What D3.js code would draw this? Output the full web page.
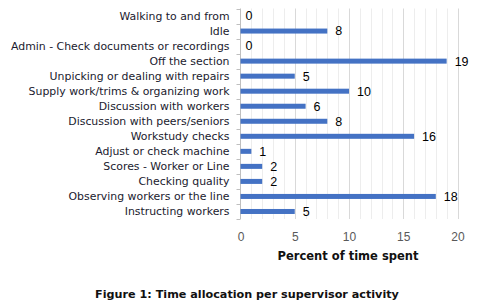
<!DOCTYPE html>
<html>
<head>
<meta charset="utf-8">
<script src="https://cdn.jsdelivr.net/npm/d3@7"></script>
<style>
  body{margin:0;background:#fff;}
  svg{display:block;}
  .cat{font-family:"DejaVu Sans",sans-serif;font-size:10.9px;fill:#1a1a2e;}
  .val{font-family:"Liberation Sans",Arial,sans-serif;font-size:12.5px;fill:#000;}
  .tick text{font-family:"Liberation Sans",Arial,sans-serif;font-size:12px;fill:#595959;}
  .ttl{font-family:"DejaVu Sans",sans-serif;font-weight:bold;fill:#111;}
</style>
</head>
<body>
<div id="chart"></div>
<script>
const activities=["Walking to and from","Idle","Admin - Check documents or recordings","Off the section",
  "Unpicking or dealing with repairs","Supply work/trims & organizing work","Discussion with workers",
  "Discussion with peers/seniors","Workstudy checks","Adjust or check machine","Scores - Worker or Line",
  "Checking quality","Observing workers or the line","Instructing workers"];
const percents=[0,8,0,19,5,10,6,8,16,1,2,2,18,5];
const xTicks=[0,5,10,15,20];

const W=486,H=305;
const m={left:240.5,right:28.5,top:8.5,bottom:86};
const svg=d3.select("#chart").append("svg").attr("width",W).attr("height",H);

const x=d3.scaleLinear().domain([0,20]).range([m.left,W-m.right]);
const y=d3.scaleBand().domain(activities).range([m.top,H-m.bottom]);

// minor gridlines every 1, major every 5
svg.append("g").selectAll("line").data(d3.range(1,21)).join("line")
  .attr("x1",d=>Math.round(x(d))+.5).attr("x2",d=>Math.round(x(d))+.5)
  .attr("y1",m.top).attr("y2",H-m.bottom)
  .attr("stroke",d=>d%5===0?"#d9d9d9":"#ededed").attr("stroke-width",1);

// y axis line with ticks at band edges
const ya=svg.append("g");
ya.append("line").attr("x1",m.left).attr("x2",m.left).attr("y1",m.top).attr("y2",H-m.bottom)
  .attr("stroke","#bfbfbf");
ya.selectAll(".yt").data(d3.range(activities.length+1)).join("line")
  .attr("x1",m.left-4).attr("x2",m.left)
  .attr("y1",i=>Math.round(m.top+i*y.step())+.5).attr("y2",i=>Math.round(m.top+i*y.step())+.5)
  .attr("stroke","#bfbfbf");

svg.append("g").selectAll("text").data(activities).join("text")
  .attr("class","cat")
  .attr("x",m.left-11).attr("y",d=>y(d)+y.bandwidth()/2)
  .attr("dy","0.35em").attr("text-anchor","end").text(d=>d);

const bh=5;
svg.append("g").selectAll("rect").data(percents).join("rect")
  .attr("x",x(0)).attr("y",(d,i)=>y(activities[i])+y.bandwidth()/2-bh/2)
  .attr("width",d=>x(d)-x(0)).attr("height",bh).attr("fill","#4472c4");

svg.append("g").selectAll("text").data(percents).join("text")
  .attr("class","val")
  .attr("x",d=>x(d)+(d===0?5:8)).attr("y",(d,i)=>y(activities[i])+y.bandwidth()/2)
  .attr("dy","0.35em").text(d=>d);

const xa=svg.append("g").attr("transform",`translate(0,${H-m.bottom+9})`)
  .call(d3.axisBottom(x).tickValues(xTicks).tickSize(0).tickPadding(4));
xa.select(".domain").remove();

svg.append("text").attr("class","ttl").attr("font-size",11.5).attr("x",348).attr("y",260)
  .attr("text-anchor","middle").text("Percent of time spent");

svg.append("text").attr("class","ttl").attr("font-size",11.2).attr("x",247).attr("y",298)
  .attr("text-anchor","middle").text("Figure 1: Time allocation per supervisor activity");
</script>
</body>
</html>
